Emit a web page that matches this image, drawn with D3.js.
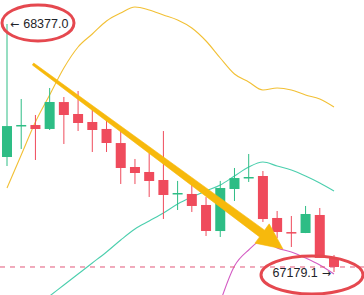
<!DOCTYPE html>
<html>
<head>
<meta charset="utf-8">
<script src="https://cdn.jsdelivr.net/npm/d3@7"></script>
<style>
  html, body { margin: 0; padding: 0; background: #fff; }
  #graph { width: 364px; height: 295px; }
</style>
</head>
<body>
<div id="graph"></div>
<script>
// candle data (one entry per candle)
var opens  = [67734.6, 67884.0, 67889.0, 67870.0, 68000.0, 67942.3, 67903.7, 67870.0, 67802.0, 67686.3, 67662.2, 67623.5,
              67555.9, 67556.0, 67502.8, 67377.0, 67580.0, 67633.0, 67642.8, 67440.0, 67372.0, 67367.5, 67454.5, 67247.0];
var highs  = [68377.0, 68014.8, 67937.5, 68067.9, 68024.4, 68053.4, 67966.5, 67918.1, 67865.0, 67725.0, 67753.9, 67860.0,
              67619.0, 67633.2, 67541.0, 67619.0, 67681.5, 67749.1, 67667.0, 67473.8, 67449.6, 67498.0, 67488.3, 67261.3];
var lows   = [67691.0, 67773.3, 67720.1, 67865.0, 67797.4, 67860.2, 67758.8, 67758.8, 67604.2, 67604.0, 67541.4, 67435.2,
              67478.6, 67469.0, 67353.0, 67348.2, 67522.1, 67613.9, 67420.7, 67343.4, 67299.9, 67367.0, 67246.8, 67179.1];
var closes = [67884.0, 67889.2, 67869.9, 68000.3, 67937.5, 67898.8, 67865.0, 67802.2, 67681.5, 67657.3, 67618.7, 67551.1,
              67560.7, 67498.0, 67377.2, 67584.9, 67633.0, 67638.0, 67435.0, 67372.4, 67367.5, 67459.3, 67247.0, 67203.3];

// indicator lines (null = not shown)
var lineYellow = [67584.9, 67744.3, 67903.7, 68034.1, 68164.5, 68265.9, 68328.7, 68391.5, 68430.1, 68459.1, 68444.6, 68420.5,
                  68396.3, 68357.7, 68294.9, 68212.8, 68135.5, 68096.9, 68058.2, 68067.9, 68058.2, 68034.1, 68014.8, 67976.1];
var lineTeal   = [null, null, 67010.1, 67063.2, 67116.4, 67169.5, 67222.6, 67275.8, 67333.7, 67386.8, 67425.5, 67464.1,
                  67507.6, 67541.4, 67570.4, 67599.4, 67642.8, 67686.3, 67710.5, 67691.1, 67671.8, 67642.8, 67609.0, 67570.4];
var linePink   = [null, null, null, null, null, null, null, null, null, null, null, null,
                  null, null, null, 67034.3, 67208.1, 67285.4, 67333.7, 67295.1, 67275.8, 67246.8, 67213.0, 67169.5];

var highLabel = "68377.0";
var lowLabel = "67179.1";

// hand drawn arrow, in chart units (candle index, price)
var arrowFrom = [1.83, 68183.8];
var arrowTo = [19.41, 67290.3];

function drawChart() {
    var area = d3.select("#graph");
    var width = 364, height = 295;

    var svg = area.append("svg")
        .attr("width", width)
        .attr("height", height);

    var n = opens.length;
    var scX = d3.scaleLinear().domain([0, n - 1]).range([7, 334]);
    var scY = d3.scaleLinear().domain([67179.1, 68377]).range([272, 24]);
    var bodyW = 10;

    // indicator lines
    function drawLine(values, color) {
        var line = d3.line()
            .defined(d => d != null)
            .x((d, i) => scX(i))
            .y(d => scY(d))
            .curve(d3.curveMonotoneX);
        svg.append("path")
            .datum(values)
            .attr("fill", "none")
            .attr("stroke", color)
            .attr("stroke-width", 1.1)
            .attr("d", line);
    }
    drawLine(lineYellow, "#f2c035");
    drawLine(lineTeal, "#4ccfae");
    drawLine(linePink, "#d45cc4");

    // candles
    var idx = d3.range(n);
    var up = i => closes[i] >= opens[i];
    var color = i => up(i) ? "#2ebd85" : "#ef4b5c";

    var candles = svg.selectAll("g.candle")
        .data(idx)
        .enter()
        .append("g")
        .attr("class", "candle");

    candles.append("line")
        .attr("x1", i => scX(i))
        .attr("x2", i => scX(i))
        .attr("y1", i => scY(highs[i]))
        .attr("y2", i => scY(lows[i]))
        .attr("stroke", color)
        .attr("stroke-width", 1);

    candles.append("rect")
        .attr("x", i => scX(i) - bodyW / 2)
        .attr("width", bodyW)
        .attr("y", i => scY(Math.max(opens[i], closes[i])))
        .attr("height", i => Math.max(1.5, Math.abs(scY(opens[i]) - scY(closes[i]))))
        .attr("fill", color);

    // current price line
    var last = closes[n - 1];
    svg.append("line")
        .attr("x1", 0)
        .attr("x2", width)
        .attr("y1", scY(last))
        .attr("y2", scY(last))
        .attr("stroke", "#e2587a")
        .attr("stroke-width", 1)
        .attr("stroke-dasharray", "5,5");

    // high / low markers
    var hi = d3.maxIndex(highs), lo = d3.minIndex(lows);
    var hiText = svg.append("text")
        .attr("x", scX(hi) + 3)
        .attr("y", scY(highs[hi]))
        .attr("dy", "0.35em")
        .attr("font-family", "Liberation Sans, Arial, sans-serif")
        .attr("font-size", "12.5px")
        .attr("fill", "#1e2329");
    hiText.append("tspan").attr("font-family", "DejaVu Sans").attr("font-size", "11px").text("\u2190");
    hiText.append("tspan").attr("dx", 4).text(highLabel);

    var loText = svg.append("text")
        .attr("x", scX(lo) - 3)
        .attr("y", scY(lows[lo]) + 1)
        .attr("dy", "0.35em")
        .attr("text-anchor", "end")
        .attr("font-family", "Liberation Sans, Arial, sans-serif")
        .attr("font-size", "12.5px")
        .attr("fill", "#1e2329");
    loText.append("tspan").text(lowLabel);
    loText.append("tspan").attr("dx", 4).attr("font-family", "DejaVu Sans").attr("font-size", "11px").text("\u2192");

    // yellow arrow (tapered shaft + head)
    var ax0 = scX(arrowFrom[0]), ay0 = scY(arrowFrom[1]);
    var ax1 = scX(arrowTo[0]), ay1 = scY(arrowTo[1]);
    var len = Math.hypot(ax1 - ax0, ay1 - ay0);
    var ux = (ax1 - ax0) / len, uy = (ay1 - ay0) / len;
    var nx = -uy, ny = ux;
    var headL = 26, headW = 12;
    var bx = ax1 - ux * headL, by = ay1 - uy * headL;
    var w0 = 1.2, w1 = 4.2;
    var arrowPts = [
        [ax0 + nx * w0, ay0 + ny * w0],
        [bx + nx * w1, by + ny * w1],
        [bx + nx * headW, by + ny * headW],
        [ax1, ay1],
        [bx - nx * headW, by - ny * headW],
        [bx - nx * w1, by - ny * w1],
        [ax0 - nx * w0, ay0 - ny * w0]
    ];
    svg.append("path")
        .attr("d", d3.line()(arrowPts) + "Z")
        .attr("fill", "#f7b90c")
        .attr("stroke", "#f7b90c")
        .attr("stroke-width", 0.6)
        .attr("stroke-linejoin", "round");

    // red circles round the labels
    svg.append("ellipse")
        .attr("cx", scX(hi) + 31)
        .attr("cy", scY(highs[hi]) - 1)
        .attr("rx", 36)
        .attr("ry", 18)
        .attr("fill", "none")
        .attr("stroke", "#e5484f")
        .attr("stroke-width", 3);

    svg.append("ellipse")
        .attr("cx", scX(lo) - 22)
        .attr("cy", scY(lows[lo]) + 3)
        .attr("rx", 51)
        .attr("ry", 19)
        .attr("fill", "none")
        .attr("stroke", "#e5484f")
        .attr("stroke-width", 3);
}

drawChart();
</script>
</body>
</html>
